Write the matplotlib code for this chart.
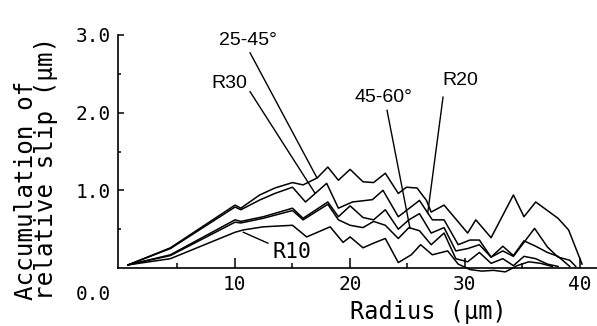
import matplotlib.pyplot as plt
import numpy as np

# Slip curves (radius in um, slip in um)
x_2545 = [0.72, 4.40, 10.02, 10.53, 12.16, 13.49, 15.02, 15.94, 17.17, 18.09, 19.01, 20.03,
          21.15, 22.07, 23.09, 24.22, 24.93, 25.85, 26.67, 27.08, 28.20, 30.25, 30.96,
          32.29, 34.23, 35.15, 36.17, 38.11, 39.03, 40.2]
y_2545 = [0.04, 0.26, 0.81, 0.77, 0.94, 1.03, 1.10, 1.07, 1.16, 1.30, 1.13, 1.27, 1.11, 1.10,
          1.22, 0.96, 1.04, 1.03, 0.87, 0.72, 0.81, 0.45, 0.62, 0.39, 0.94, 0.66, 0.85,
          0.64, 0.49, 0.05]

x_r30 = [0.72, 4.40, 10.02, 10.53, 12.16, 13.49, 15.02, 16.15, 17.99, 19.01, 20.23, 21.97,
         22.89, 24.22, 26.06, 27.18, 28.20, 29.43, 30.45, 31.27, 32.29, 33.31, 34.23, 36.07,
         37.19, 38.11, 39.13, 39.65]
y_r30 = [0.04, 0.25, 0.785, 0.75, 0.875, 0.96, 1.04, 0.85, 1.09, 0.77, 0.85, 0.88, 1.00, 0.66,
         0.87, 0.62, 0.62, 0.30, 0.36, 0.36, 0.14, 0.22, 0.15, 0.51, 0.27, 0.14, 0.10, 0.02]

x_4560 = [0.72, 4.40, 10.02, 10.53, 12.47, 15.02, 15.94, 18.09, 19.01, 20.03, 21.15, 22.07,
          23.09, 24.22, 25.14, 26.06, 27.08, 28.20, 29.22, 30.25, 31.27, 32.29, 33.31, 34.23,
          35.15, 36.17, 37.19, 38.11, 39.13]
y_4560 = [0.04, 0.17, 0.62, 0.60, 0.66, 0.77, 0.64, 0.85, 0.66, 0.80, 0.65, 0.62, 0.75, 0.50,
          0.62, 0.70, 0.45, 0.52, 0.22, 0.25, 0.30, 0.14, 0.28, 0.16, 0.35, 0.28, 0.20,
          0.15, 0.02]

x_r20 = [0.72, 4.40, 10.02, 10.53, 12.47, 15.02, 15.94, 18.09, 19.01, 20.03, 21.15, 22.07,
         23.09, 24.22, 25.14, 26.06, 27.08, 28.20, 29.22, 30.25, 31.27, 32.29, 33.31, 34.23,
         35.15, 36.17, 37.19, 38.11]
y_r20 = [0.04, 0.16, 0.59, 0.58, 0.64, 0.74, 0.62, 0.82, 0.62, 0.55, 0.52, 0.60, 0.55, 0.38,
         0.52, 0.48, 0.30, 0.45, 0.12, 0.08, 0.20, 0.06, 0.12, 0.03, 0.15, 0.12, 0.05, 0.02]

x_r10 = [0.72, 4.40, 10.02, 10.74, 12.47, 15.02, 16.25, 18.29, 19.42, 20.03, 21.15, 22.07,
         23.09, 24.22, 25.35, 26.16, 27.18, 28.51, 29.43, 30.45, 31.48, 32.50, 33.53, 34.55,
         35.57, 36.59, 37.61]
y_r10 = [0.04, 0.12, 0.46, 0.49, 0.53, 0.55, 0.40, 0.53, 0.33, 0.40, 0.26, 0.32, 0.38, 0.07,
         0.17, 0.30, 0.17, 0.22, 0.05, -0.02, -0.04, -0.03, -0.05, 0.03, 0.08, 0.06, 0.02]

curves = [(x_2545, y_2545), (x_r30, y_r30), (x_4560, y_4560), (x_r20, y_r20), (x_r10, y_r10)]

# label text, text position, leader start, leader end
labels = [
    ('25-45°', (11.14, 2.93), (11.33, 2.77), (17.15, 1.16), 'sans'),
    ('R30', (9.54, 2.38), (11.33, 2.27), (16.97, 0.965), 'sans'),
    ('45-60°', (22.89, 2.20), (23.24, 2.03), (25.24, 0.51), 'sans'),
    ('R20', (29.64, 2.42), (28.11, 2.20), (26.78, 0.71), 'sans'),
    ('R10', (14.98, 0.20), (10.74, 0.46), (12.88, 0.32), 'mono'),
]

mono = 'DejaVu Sans Mono'
sans = 'Liberation Sans'

fig = plt.figure(figsize=(5.97, 3.26), dpi=100)
ax = fig.add_axes([117.5 / 597, 58 / 326, (597 - 117.5) / 597, 233 / 326])

for xs, ys in curves:
    ax.plot(xs, ys, color='black', linewidth=1.1, clip_on=False)

for text, tpos, p0, p1, kind in labels:
    ax.plot([p0[0], p1[0]], [p0[1], p1[1]], color='black', linewidth=1.0, clip_on=False)
    ax.text(tpos[0], tpos[1], text, ha='center', va='center',
            fontsize=14 if kind == 'sans' else 15.5,
            family=sans if kind == 'sans' else mono)

ax.set_xlim(-0.2, 41.5)
ax.set_ylim(0, 3.0)
ax.spines['top'].set_visible(False)
ax.spines['right'].set_visible(False)
ax.spines['left'].set_linewidth(1.2)
ax.spines['bottom'].set_linewidth(1.2)

ax.set_xticks([10, 20, 30, 40])
ax.set_xticks([5, 15, 25, 35], minor=True)
ax.set_yticks([1.0, 2.0, 3.0])
ax.set_yticklabels(['1.0', '2.0', '3.0'])
ax.set_yticks([0.5, 1.5, 2.5], minor=True)
ax.tick_params(axis='x', which='major', direction='in', length=7, width=1.1, pad=5,
               labelsize=14)
ax.tick_params(axis='x', which='minor', direction='in', length=3.5, width=1.1)
ax.tick_params(axis='y', which='major', direction='in', length=4, width=1.1, pad=5,
               labelsize=14)
ax.tick_params(axis='y', which='minor', direction='in', length=2.5, width=1.1)
for lab in ax.get_xticklabels() + ax.get_yticklabels():
    lab.set_family(mono)

# the zero label sits below the axis in the original
ax.annotate('0.0', xy=(0, 0), xycoords='axes fraction', xytext=(-5, -19),
            textcoords='offset points', ha='right', va='center', fontsize=14, family=mono)

fig.text(428 / 597, (326 - 312) / 326, 'Radius (μm)', ha='center', va='center',
         fontsize=17, family=mono)

fig.text(36 / 597, 26 / 326, 'Accumulation of\nrelative slip (μm)', rotation=90,
         ha='center', va='bottom', multialignment='left', fontsize=17.5, family=mono,
         linespacing=0.8)

fig.savefig('out.png', dpi=100, facecolor='white')
